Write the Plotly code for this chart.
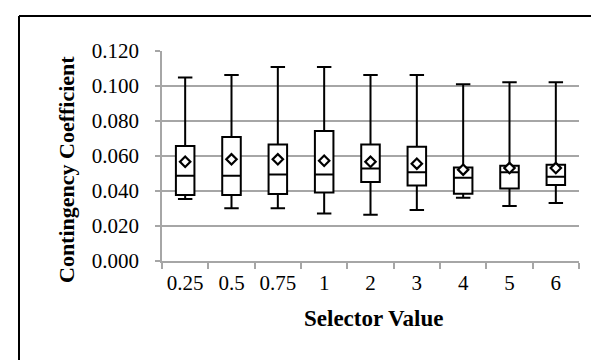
import plotly.graph_objects as go

categories = ["0.25", "0.5", "0.75", "1", "2", "3", "4", "5", "6"]
upper_whisker = [0.1049, 0.1063, 0.1109, 0.1109, 0.1063, 0.1063, 0.1010, 0.1021, 0.1021]
q3_values = [0.0657, 0.0708, 0.0666, 0.0743, 0.0666, 0.0653, 0.0535, 0.0545, 0.0550]
median_values = [0.0487, 0.0487, 0.0495, 0.0495, 0.0529, 0.0507, 0.0476, 0.0507, 0.0482]
q1_values = [0.0377, 0.0377, 0.0383, 0.0392, 0.0451, 0.0432, 0.0385, 0.0415, 0.0434]
lower_whisker = [0.0354, 0.0301, 0.0301, 0.0272, 0.0265, 0.0291, 0.0362, 0.0314, 0.0331]
mean_values = [0.0567, 0.0581, 0.0581, 0.0573, 0.0567, 0.0556, 0.0522, 0.0531, 0.0531]
y_title = "Contingency Coefficient"
x_title = "Selector Value"

FONT = "Liberation Serif"
GRID = "#A6A6A6"

fig = go.Figure()
fig.add_trace(go.Box(
    x=categories,
    q1=q1_values, median=median_values, q3=q3_values,
    lowerfence=lower_whisker, upperfence=upper_whisker,
    width=0.4, whiskerwidth=0.78,
    line=dict(color="black", width=2),
    fillcolor="white",
    boxpoints=False,
    hoverinfo="skip",
    showlegend=False,
))
fig.add_trace(go.Scatter(
    x=categories, y=mean_values, mode="markers",
    marker=dict(symbol="diamond", size=8, color="white",
                line=dict(color="black", width=2.2)),
    showlegend=False, hoverinfo="skip",
))

L, R, T, B = 154, 28, 43, 107
W, H = 599, 360
pw = W - L - R
ph = H - T - B

def px(x):
    return (x - L) / pw

def py(y):
    return (H - B - y) / ph

fig.update_layout(
    width=W, height=H,
    margin=dict(l=L, r=R, t=T, b=B, pad=0),
    paper_bgcolor="white", plot_bgcolor="white",
    font=dict(family=FONT, size=21, color="black"),
    xaxis=dict(
        type="category", showgrid=False, showline=True, linecolor=GRID, linewidth=1.5,
        ticks="outside", tickson="boundaries", ticklen=6, tickcolor=GRID, tickwidth=1.5,
        ticklabelstandoff=2,
        tickfont=dict(family=FONT, size=21, color="black"),
        range=[-0.5, 8.5],
    ),
    yaxis=dict(
        range=[0, 0.12], dtick=0.02, tickformat=".3f",
        showgrid=True, gridcolor=GRID, gridwidth=1.5, zeroline=False,
        showline=True, linecolor=GRID, linewidth=1.5,
        ticks="outside", ticklen=5, tickcolor=GRID, tickwidth=1.5,
        ticklabelstandoff=12,
        tickfont=dict(family=FONT, size=21, color="black"),
    ),
    annotations=[
        dict(text="<b>" + y_title + "</b>", textangle=-90, xref="paper", yref="paper",
             x=px(58), y=py(162), xanchor="center", yanchor="middle", showarrow=False,
             font=dict(family=FONT, size=22, color="black")),
        dict(text="<b>" + x_title + "</b>", xref="paper", yref="paper",
             x=px(365), y=py(310), xanchor="center", yanchor="middle", showarrow=False,
             font=dict(family=FONT, size=23, color="black")),
    ],
    shapes=[
        dict(type="line", xref="paper", yref="paper", x0=px(11), x1=px(640), y0=py(8), y1=py(8),
             line=dict(color="black", width=2)),
        dict(type="line", xref="paper", yref="paper", x0=px(11), x1=px(11), y0=py(8), y1=py(400),
             line=dict(color="black", width=2)),
    ],
)

fig.write_html("out.html")
